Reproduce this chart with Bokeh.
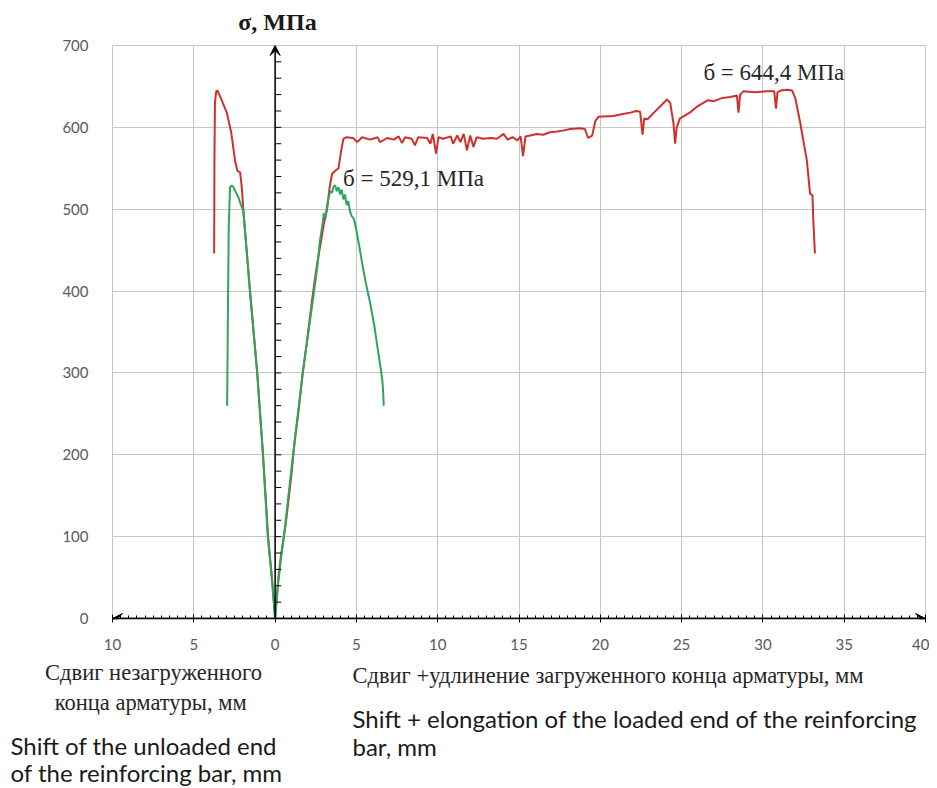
from bokeh.plotting import figure
from bokeh.layouts import column
from bokeh.models import Range1d, FixedTicker, Arrow, VeeHead, Label, CustomJSTickFormatter
from bokeh.embed import file_html
from bokeh.resources import INLINE

# ---------------- data ----------------
# loaded end (right side), red
red_right_x = [0, 0.1, 0.2, 0.35, 0.5, 0.65, 0.8, 1.0, 1.2, 1.45, 1.7, 2.0, 2.25, 2.45, 2.65, 2.8, 3.0, 3.2,
               3.35, 3.5, 3.7, 3.9, 4.05, 4.2, 4.4,
               4.8, 5.05, 5.35, 5.85, 6.3, 6.45, 6.9, 7.3, 7.6, 7.8, 8.0, 8.4, 8.6, 8.8, 9.35, 9.55, 9.7, 9.9,
               10.05, 10.35, 10.8, 10.95, 11.2, 11.4, 11.6, 11.8, 12.0, 12.2, 12.4, 12.8, 13.25, 13.65, 14.05,
               14.3, 14.6, 14.9, 15.1, 15.25, 15.4, 15.7, 16.1, 16.5, 16.9, 17.35, 17.7, 18.15, 18.75, 19.05,
               19.25, 19.5, 19.7, 19.9, 20.8, 21.3, 21.85, 22.2, 22.45, 22.6, 22.7, 22.9, 23.3, 23.8, 24.1,
               24.3, 24.5, 24.6, 24.7, 24.9, 25.5, 26.0, 26.6, 27.0, 27.5, 28.0, 28.4, 28.5, 28.6, 28.8, 29.5,
               30.2, 30.7, 30.8, 30.9, 31.1, 31.5, 31.8, 32.0, 32.3, 32.7, 32.9, 33.05, 33.1, 33.2]
red_right_y = [0, 25, 50, 75, 95, 115, 140, 175, 215, 255, 300, 345, 385, 415, 441, 458, 482, 500,
               526, 543, 547, 550, 570, 586, 588,
               587, 582, 588, 585, 588, 582, 587, 585, 589, 581, 588, 586, 578, 588, 587, 580, 592, 568,
               588, 586, 589, 580, 590, 582, 592, 572, 590, 576, 588, 586, 587, 586, 592,
               585, 588, 584, 589, 565, 589, 590, 592, 591, 594, 595, 596, 598, 599, 598,
               587, 590, 608, 613, 614, 616, 618, 620, 619, 591, 611, 610, 618, 628, 634,
               630, 605, 580, 600, 611, 618, 626, 633, 632, 636, 637, 639, 618, 640, 644, 643,
               644, 644, 623, 643, 645, 646, 645, 635, 605, 560, 519, 517, 486, 446]

# unloaded end (left side), red
red_left_x = [0, -0.2, -0.43, -0.74, -1.1, -1.54, -1.95, -2.05, -2.15, -2.32, -2.46, -2.7, -2.97, -3.3,
              -3.55, -3.62, -3.7, -3.73, -3.75]
red_left_y = [0, 50, 100, 200, 300, 400, 498, 527, 545, 547, 559, 594, 618, 634,
              645, 644, 630, 560, 446]

# unloaded end (left side), green
green_left_x = [0, -0.2, -0.45, -0.75, -1.1, -1.55, -1.95, -2.1, -2.26, -2.45, -2.56, -2.67, -2.77,
                -2.85, -2.9, -2.95]
green_left_y = [0, 50, 100, 200, 300, 400, 498, 505, 515, 522, 527, 529, 527, 480, 380, 260]

# loaded end (right side), green
green_right_x = [0, 0.2, 0.4, 0.6, 1.1, 1.7, 2.4, 2.6, 2.75, 2.9, 3.0, 3.1, 3.2, 3.3, 3.4, 3.5, 3.6,
                 3.7, 3.8, 3.9, 4.0, 4.1, 4.2, 4.3, 4.4, 4.5, 4.6, 4.7, 4.85, 5.0, 5.2, 5.4, 5.6, 5.85,
                 6.1, 6.3, 6.5, 6.6, 6.65, 6.68]
green_right_y = [0, 45, 80, 110, 200, 300, 400, 430, 460, 480, 495, 490, 505, 515, 522, 520, 528,
                 529, 522, 527, 518, 524, 512, 518, 505, 510, 498, 492, 488, 474, 452, 429, 408, 385,
                 358, 331, 305, 290, 275, 260]

x_ticks = [-10, -5, 0, 5, 10, 15, 20, 25, 30, 35, 40]
x_minor = [v / 2 for v in range(-20, 81)]
y_ticks = [0, 100, 200, 300, 400, 500, 600, 700]
y_axis_minor = list(range(20, 700, 20))

peak_left_label = "б = 529,1 МПа"
peak_right_label = "б = 644,4 МПа"

RED = "#d0302c"
GREEN = "#2ea55f"
GRID = "#c6c6c6"
SERIF = "Liberation Serif"
SANS = "Lato"
W = 929

# ---------------- header (y-axis title) ----------------
H_TOP = 37
top = figure(width=W, height=H_TOP, output_backend="svg", toolbar_location=None,
             x_range=Range1d(0, W), y_range=Range1d(H_TOP, 0),
             x_axis_location=None, y_axis_location=None, min_border=0, frame_align=False)
top.outline_line_color = None
top.grid.visible = False
top.add_layout(Label(x=277, y=21, text="σ, МПа", text_font=SERIF, text_font_size="24px",
                     text_font_style="bold", text_color="#1a1a1a", text_align="center",
                     text_baseline="middle"))

# ---------------- main chart ----------------
p = figure(width=W, height=623, output_backend="svg", toolbar_location=None,
           x_range=Range1d(-10, 40), y_range=Range1d(0, 700),
           min_border_left=112, min_border_right=4, min_border_top=8, min_border_bottom=42,
           frame_align=False)
p.background_fill_color = "white"
p.border_fill_color = "white"
p.outline_line_color = GRID

p.xgrid.ticker = FixedTicker(ticks=x_ticks)
p.ygrid.ticker = FixedTicker(ticks=y_ticks)
p.xgrid.grid_line_color = GRID
p.ygrid.grid_line_color = GRID

xa = p.xaxis[0]
xa.ticker = FixedTicker(ticks=x_ticks, minor_ticks=x_minor)
xa.formatter = CustomJSTickFormatter(code="return String(Math.abs(tick));")
xa.axis_line_color = "black"
xa.axis_line_width = 1.5
xa.major_tick_line_color = "black"
xa.major_tick_in = 4
xa.major_tick_out = 4
xa.minor_tick_line_color = "black"
xa.minor_tick_in = 3
xa.minor_tick_out = 0
xa.major_label_standoff = 16
xa.major_label_text_font = SANS
xa.major_label_text_font_size = "15px"
xa.major_label_text_color = "#595959"

ya = p.yaxis[0]
ya.ticker = FixedTicker(ticks=y_ticks)
ya.axis_line_color = None
ya.major_tick_line_color = None
ya.minor_tick_line_color = None
ya.major_tick_in = 0
ya.major_tick_out = 0
ya.major_label_standoff = 24
ya.major_label_text_font = SANS
ya.major_label_text_font_size = "15px"
ya.major_label_text_color = "#595959"

p.line(red_left_x, red_left_y, line_color=RED, line_width=2)
p.line(red_right_x, red_right_y, line_color=RED, line_width=2)
p.line(green_left_x, green_left_y, line_color=GREEN, line_width=2)
p.line(green_right_x, green_right_y, line_color=GREEN, line_width=2)

p.segment(x0=[0] * len(y_axis_minor), y0=y_axis_minor, x1=[0.38] * len(y_axis_minor), y1=y_axis_minor,
          line_color="black", line_width=1)
for xe, ye in [(0, 700), (40, 0), (-10, 0)]:
    p.add_layout(Arrow(end=VeeHead(size=10, fill_color="black", line_color="black"),
                       x_start=0, y_start=0, x_end=xe, y_end=ye, line_color="black", line_width=1.5))

p.add_layout(Label(x=4.18, y=538, text=peak_left_label, text_font=SERIF, text_font_size="23px",
                   text_color="#262626", text_baseline="middle"))
p.add_layout(Label(x=26.34, y=667, text=peak_right_label, text_font=SERIF, text_font_size="23px",
                   text_color="#262626", text_baseline="middle"))

# ---------------- footer (axis captions) ----------------
H_BOT = 128
bot = figure(width=W, height=H_BOT, output_backend="svg", toolbar_location=None,
             x_range=Range1d(0, W), y_range=Range1d(H_BOT, 0),
             x_axis_location=None, y_axis_location=None, min_border=0, frame_align=False)
bot.outline_line_color = None
bot.grid.visible = False

def lab(x, y, text, font, size, color, align="left"):
    bot.add_layout(Label(x=x, y=y, text=text, text_font=font, text_font_size=size, text_color=color,
                         text_align=align, text_baseline="middle"))

lab(153, 12, "Сдвиг незагруженного", SERIF, "22.5px", "#262626", align="center")
lab(153, 42, "конца арматуры,  мм", SERIF, "22.5px", "#262626", align="center")
lab(352, 15, "Сдвиг +удлинение загруженного конца арматуры, мм", SERIF, "22.5px", "#262626")
lab(352, 58, "Shift + elongation of the loaded end of the reinforcing", SANS, "24px", "#1a1a1a")
lab(352, 86, "bar, mm", SANS, "24px", "#1a1a1a")
lab(10, 85, "Shift of the unloaded end", SANS, "24px", "#1a1a1a")
lab(10, 112, "of the reinforcing bar, mm", SANS, "24px", "#1a1a1a")

layout = column(top, p, bot, spacing=0)
open("out.html", "w").write(file_html(layout, INLINE))
